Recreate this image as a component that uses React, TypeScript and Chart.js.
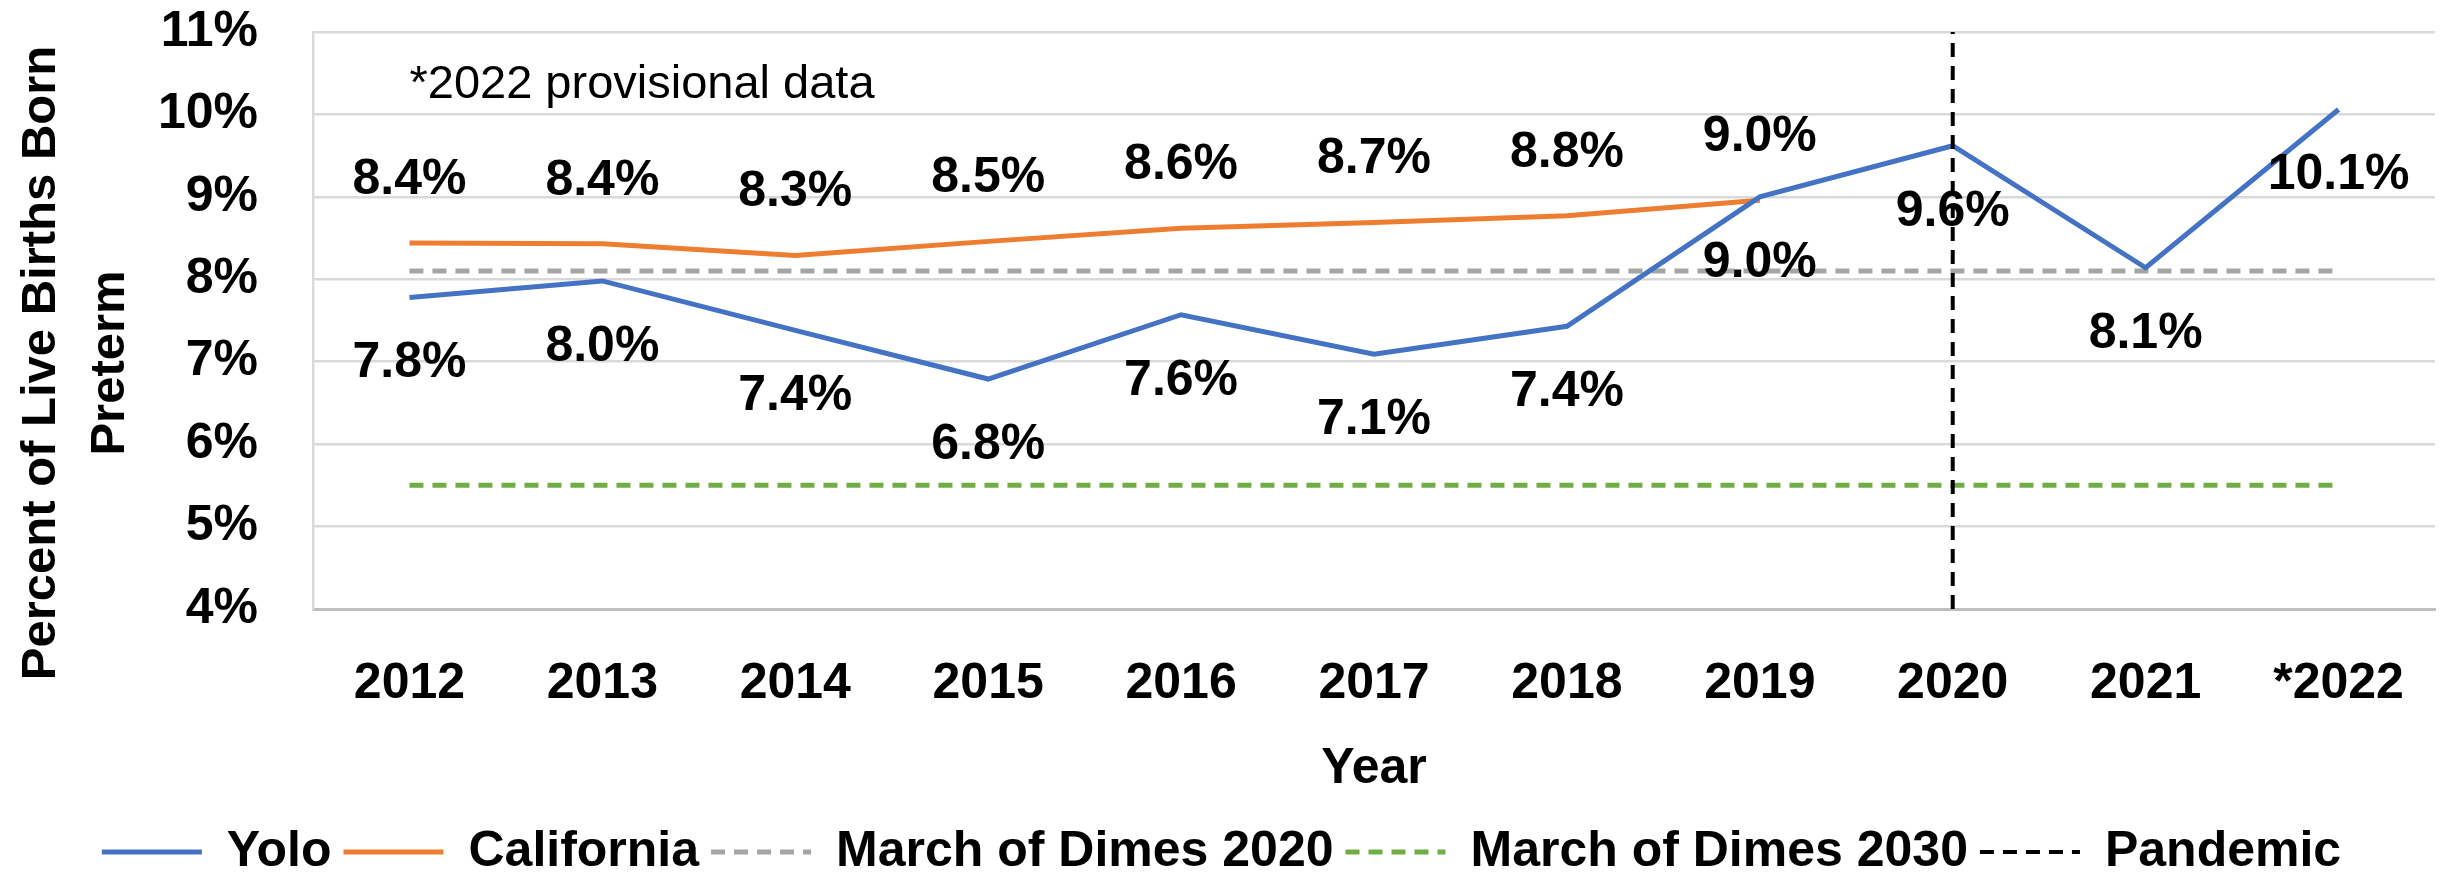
import React, { useEffect, useRef } from 'react';
import { Chart, registerables } from 'chart.js';

Chart.register(...registerables);

// ---------- data ----------
const YEARS = ['2012', '2013', '2014', '2015', '2016', '2017', '2018', '2019', '2020', '2021', '*2022'];
const YOLO = [7.78, 7.98, 7.38, 6.79, 7.57, 7.09, 7.43, 9.0, 9.62, 8.14, 10.06];
const CALIFORNIA = [8.44, 8.43, 8.29, 8.46, 8.62, 8.69, 8.77, 8.96];
const MOD_2020 = [8.1, 8.1, 8.1, 8.1, 8.1, 8.1, 8.1, 8.1, 8.1, 8.1, 8.1];
const MOD_2030 = [5.5, 5.5, 5.5, 5.5, 5.5, 5.5, 5.5, 5.5, 5.5, 5.5, 5.5];
const PANDEMIC_YEAR = '2020';
const PANDEMIC_RANGE = [4, 11];
const Y_MIN = 4;
const Y_MAX = 11;
const Y_STEP = 1;
const SERIES_NAMES = ['Yolo', 'California', 'March of Dimes 2020', 'March of Dimes 2030', 'Pandemic'];
const Y_TITLE = ['Percent of Live Births Born', 'Preterm'];
const X_TITLE = 'Year';
const NOTE_TEXT = '*2022 provisional data';
const NOTE_VALUE = 10.36;

// ---------- styles ----------
const FONT = '"Liberation Sans", Arial, sans-serif';
const BIG = 50;

const pointLabels = {
  id: 'pointLabels',
  afterDatasetDraw(chart: any, args: any) {
    const ds: any = chart.data.datasets[args.index];
    if (ds.labelOffset === undefined) return;
    const ctx = chart.ctx;
    ctx.save();
    ctx.font = `bold ${BIG}px ${FONT}`;
    ctx.fillStyle = '#000';
    ctx.textAlign = 'center';
    ctx.textBaseline = 'middle';
    args.meta.data.forEach((pt: any, i: number) => {
      const v = ds.data[i];
      if (typeof v !== 'number') return;
      ctx.fillText(v.toFixed(1) + '%', pt.x, pt.y + ds.labelOffset);
    });
    ctx.restore();
  },
};

const extras = {
  id: 'extras',
  afterLayout(chart: any) {
    if (chart.legend) {
      chart.legend.top += 16;
      chart.legend.bottom += 16;
    }
  },
  afterDraw(chart: any) {
    const ctx = chart.ctx;
    const xs = chart.scales.x;
    const ys = chart.scales.y;
    ctx.save();
    // note text
    ctx.font = `normal 47px ${FONT}`;
    ctx.fillStyle = '#000';
    ctx.textAlign = 'left';
    ctx.textBaseline = 'middle';
    ctx.fillText(NOTE_TEXT, xs.getPixelForValue(0), ys.getPixelForValue(NOTE_VALUE));
    // y axis title (two lines)
    ctx.font = `bold 49px ${FONT}`;
    ctx.textAlign = 'center';
    const cy = 355;
    const xsPos = [33, 102];
    Y_TITLE.forEach((t, i) => {
      ctx.save();
      ctx.translate(xsPos[i], cy);
      ctx.rotate(-Math.PI / 2);
      ctx.fillText(t, 0, 0);
      ctx.restore();
    });
    ctx.restore();
  },
};

export default function App() {
  const ref = useRef<HTMLCanvasElement | null>(null);

  useEffect(() => {
    if (!ref.current) return;
    const font = { family: FONT, size: BIG, weight: 'bold' as const };
    const chart = new Chart(ref.current, {
      type: 'line',
      data: {
        labels: YEARS,
        datasets: [
          {
            label: SERIES_NAMES[0],
            data: YOLO,
            borderColor: '#4472C4',
            backgroundColor: '#4472C4',
            borderWidth: 5,
            pointRadius: 0,
            order: 1,
            labelOffset: 66,
          } as any,
          {
            label: SERIES_NAMES[1],
            data: CALIFORNIA,
            borderColor: '#ED7D31',
            backgroundColor: '#ED7D31',
            borderWidth: 5,
            pointRadius: 0,
            order: 1,
            labelOffset: -63,
          } as any,
          {
            label: SERIES_NAMES[2],
            data: MOD_2020,
            borderColor: '#A5A5A5',
            backgroundColor: '#A5A5A5',
            borderWidth: 5,
            borderDash: [14, 9],
            pointRadius: 0,
            order: 1,
          },
          {
            label: SERIES_NAMES[3],
            data: MOD_2030,
            borderColor: '#70AD47',
            backgroundColor: '#70AD47',
            borderWidth: 5,
            borderDash: [14, 9],
            pointRadius: 0,
            order: 1,
          },
          {
            label: SERIES_NAMES[4],
            data: PANDEMIC_RANGE.map((v) => ({ x: PANDEMIC_YEAR, y: v })),
            borderColor: '#000000',
            backgroundColor: '#000000',
            borderWidth: 4,
            borderDash: [14, 9],
            pointRadius: 0,
            order: 0,
          } as any,
        ],
      },
      options: {
        animation: false,
        responsive: true,
        maintainAspectRatio: false,
        devicePixelRatio: 1,
        layout: { padding: { top: 24, right: 3, left: 0, bottom: 0 } },
        scales: {
          x: {
            offset: true,
            grid: {
              display: true,
              drawOnChartArea: false,
              drawTicks: true,
              tickLength: 45,
              tickColor: 'rgba(0,0,0,0)',
            },
            border: { display: true, color: '#BFBFBF', width: 3 },
            ticks: { color: '#000', font, padding: 0, maxRotation: 0, autoSkip: false },
            title: { display: true, text: X_TITLE, color: '#000', font, padding: { top: 0, bottom: 0 } },
            afterFit: (s: any) => {
              s.height = 190;
            },
          },
          y: {
            min: Y_MIN,
            max: Y_MAX,
            ticks: {
              stepSize: Y_STEP,
              color: '#000',
              font: { ...font, lineHeight: 0.9 },
              padding: 0,
              callback: (v: any) => `${v}%`,
            },
            grid: {
              color: '#D9D9D9',
              lineWidth: 2.5,
              drawTicks: true,
              tickLength: 55,
              tickColor: 'rgba(0,0,0,0)',
            },
            border: { display: true, color: '#D9D9D9', width: 2.5 },
            afterFit: (s: any) => {
              s.width = 305;
            },
          },
        },
        plugins: {
          legend: {
            position: 'bottom',
            labels: {
              usePointStyle: true,
              pointStyle: 'line',
              pointStyleWidth: 100,
              color: '#000',
              font,
              padding: 12,
              sort: (a: any, b: any) => a.datasetIndex - b.datasetIndex,
              generateLabels: (c: any) => {
                const items = (Chart.defaults.plugins.legend.labels as any).generateLabels(c);
                return items.map((it: any) => {
                  const ds: any = c.data.datasets[it.datasetIndex];
                  return {
                    ...it,
                    lineDash: ds.borderDash || [],
                    lineWidth: ds.borderWidth,
                    strokeStyle: ds.borderColor,
                    fillStyle: ds.borderColor,
                    pointStyle: 'line',
                  };
                });
              },
            },
          },
          tooltip: { enabled: false },
        },
      },
      plugins: [pointLabels, extras],
    } as any);
    return () => chart.destroy();
  }, []);

  return (
    <div style={{ width: 2430, height: 863, position: 'relative' }}>
      <canvas ref={ref} />
    </div>
  );
}
